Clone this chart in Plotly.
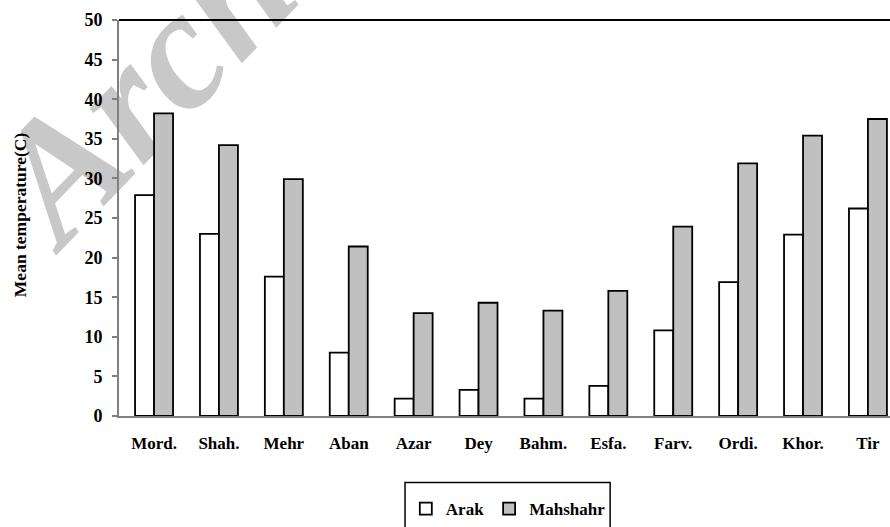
import plotly.graph_objects as go

months = ["Mord.", "Shah.", "Mehr", "Aban", "Azar", "Dey", "Bahm.", "Esfa.", "Farv.", "Ordi.", "Khor.", "Tir"]
arak = [27.9, 23.0, 17.6, 8.0, 2.2, 3.3, 2.2, 3.8, 10.8, 16.9, 22.9, 26.2]
mahshahr = [38.2, 34.2, 29.9, 21.4, 13.0, 14.3, 13.3, 15.8, 23.9, 31.9, 35.4, 37.5]
y_ticks = list(range(0, 51, 5))

SERIF = "Liberation Serif"

fig = go.Figure()
fig.add_trace(go.Bar(name="Arak", x=months, y=arak,
                     marker=dict(color="white", line=dict(color="black", width=1.8))))
fig.add_trace(go.Bar(name="Mahshahr", x=months, y=mahshahr,
                     marker=dict(color="#c0c0c0", line=dict(color="black", width=1.8))))

fig.update_layout(
    width=890, height=527,
    margin=dict(l=119, r=0, t=20, b=109),
    paper_bgcolor="white", plot_bgcolor="rgba(0,0,0,0)",
    barmode="group", bargap=0.415, bargroupgap=0,
    font=dict(family=SERIF, size=16, color="black", weight="bold"),
    showlegend=True,
    legend=dict(orientation="h", x=0.372, y=-0.236, xanchor="left", yanchor="middle",
                bgcolor="rgba(0,0,0,0)", borderwidth=0,
                font=dict(family=SERIF, size=17, color="black", weight="bold"),
                itemwidth=30, traceorder="normal"),
    xaxis=dict(range=[-0.54, 11.34], showline=True, linecolor="#808080", linewidth=2,
               ticks="", showgrid=False, zeroline=False,
               tickfont=dict(family=SERIF, size=17, color="black", weight="bold"),
               ticklabelstandoff=11),
    yaxis=dict(range=[0, 50], tickvals=y_ticks, showline=True, linecolor="#808080", linewidth=2,
               ticks="outside", ticklen=5, tickcolor="#808080", tickwidth=1.5,
               showgrid=False, zeroline=False,
               tickfont=dict(family=SERIF, size=18, color="black", weight="bold"),
               ticklabelstandoff=6),
)

# top border line of plot area
fig.add_shape(type="line", xref="paper", yref="paper", x0=0, x1=1, y0=1, y1=1,
              line=dict(color="black", width=2))

# legend frame (extends below the visible page)
fig.add_shape(type="rect", xref="paper", yref="paper", x0=0.371, x1=0.637, y0=-0.168, y1=-0.33,
              line=dict(color="black", width=1.5), fillcolor="rgba(0,0,0,0)")

# y-axis title
fig.add_annotation(text="Mean temperature(C)", xref="paper", yref="paper", x=-0.128, y=0.508,
                   xanchor="center", yanchor="middle",
                   textangle=-90, showarrow=False,
                   font=dict(family=SERIF, size=17.5, color="black", weight="bold"))

# watermark, drawn beneath the chart
fig.add_shape(type="rect", xref="paper", yref="paper", x0=0.324, x1=0.340, y0=1.51, y1=1.52,
              layer="below", line=dict(width=0), fillcolor="rgba(0,0,0,0)",
              label=dict(text="Archive of SID", textangle=-46, textposition="middle center",
                         font=dict(family=SERIF, size=170, color="#c8c8c8",
                                   style="italic", weight="bold")))

fig.write_html("out.html",
               config={"displayModeBar": False},
               post_script="document.body.style.margin='0';document.body.style.overflow='hidden';")
